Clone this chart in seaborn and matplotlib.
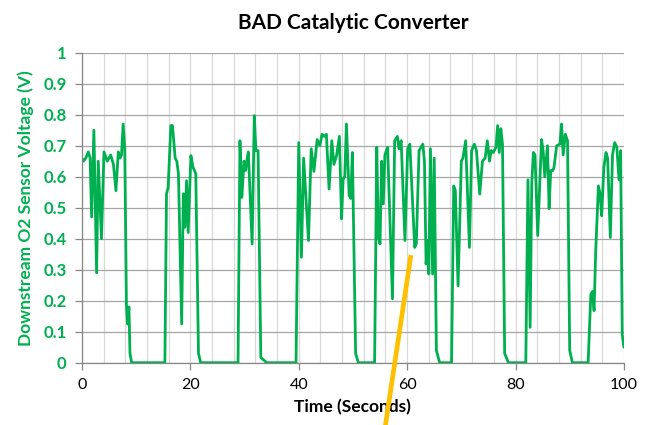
import matplotlib
matplotlib.use("Agg")
import matplotlib.pyplot as plt
import seaborn as sns
import pandas as pd
import numpy as np
from matplotlib.ticker import MultipleLocator, FixedLocator

time_s = [0.0, 0.25, 0.7, 1.17, 1.5, 1.78, 2.2, 2.7, 3.0, 3.6, 4.06, 4.67, 5.3, 5.8, 6.27, 6.7, 7.0, 7.3, 7.6, 7.9,
          8.2, 8.4, 8.67, 8.86, 9.17, 15.3, 15.6, 15.9, 16.4, 16.7, 17.2, 17.5, 17.8, 18.4, 18.7, 19.0, 19.3, 19.6,
          20.1, 20.5, 21.0, 21.5, 21.9, 28.8, 29.15, 29.5, 29.9, 30.2, 30.4, 30.7, 31.4, 31.8, 32.1, 32.5, 33.0,
          34.1, 39.5, 40.0, 40.5, 40.9, 41.8, 42.3, 42.8, 43.4, 43.9, 44.3, 44.7, 45.1, 45.6, 46.1, 46.5, 47.0,
          47.5, 47.9, 48.2, 48.5, 48.8, 49.3, 49.6, 49.9, 50.5, 51.0, 54.0, 54.4, 54.7, 55.0, 55.3, 55.6, 55.9,
          56.4, 57.3, 57.7, 58.2, 58.5, 58.9, 59.6, 60.1, 60.5, 61.4, 61.7, 62.2, 62.9, 63.2, 63.5, 63.8, 64.0,
          64.3, 64.7, 65.0, 65.4, 66.0, 68.2, 68.6, 68.9, 69.4, 70.0, 70.3, 70.8, 71.5, 71.9, 72.4, 72.8, 73.4,
          73.9, 74.4, 74.8, 75.2, 75.5, 75.9, 76.4, 76.7, 77.0, 77.3, 77.6, 78.0, 78.7, 81.9, 82.3, 82.7, 83.0,
          83.3, 83.6, 84.1, 84.8, 85.1, 85.4, 85.9, 86.2, 86.5, 86.9, 87.1, 87.6, 88.2, 88.5, 88.8, 89.2, 89.6,
          90.0, 90.5, 93.4, 93.9, 94.2, 94.5, 94.8, 95.3, 95.6, 95.9, 96.3, 96.7, 97.0, 97.5, 97.9, 98.3, 98.7,
          99.1, 99.4, 99.7, 100.0]
voltage = [0.66, 0.65, 0.66, 0.68, 0.66, 0.47, 0.75, 0.29, 0.65, 0.40, 0.68, 0.65, 0.67, 0.64, 0.555, 0.68, 0.66,
           0.67, 0.77, 0.69, 0.19, 0.125, 0.18, 0.03, 0.0, 0.0, 0.545, 0.565, 0.765, 0.765, 0.66, 0.65, 0.61,
           0.125, 0.545, 0.437, 0.587, 0.42, 0.668, 0.63, 0.61, 0.03, 0.0, 0.0, 0.716, 0.533, 0.65, 0.62, 0.65,
           0.68, 0.383, 0.797, 0.684, 0.684, 0.017, 0.0, 0.0, 0.71, 0.34, 0.66, 0.394, 0.69, 0.617, 0.72, 0.70,
           0.737, 0.73, 0.737, 0.56, 0.716, 0.64, 0.67, 0.73, 0.464, 0.593, 0.60, 0.77, 0.54, 0.53, 0.678, 0.03,
           0.0, 0.0, 0.695, 0.404, 0.383, 0.65, 0.512, 0.67, 0.695, 0.206, 0.716, 0.73, 0.69, 0.716, 0.394, 0.69,
           0.705, 0.372, 0.383, 0.684, 0.705, 0.65, 0.318, 0.394, 0.286, 0.69, 0.286, 0.66, 0.04, 0.0, 0.0, 0.57,
           0.555, 0.248, 0.65, 0.66, 0.716, 0.372, 0.684, 0.705, 0.684, 0.544, 0.65, 0.66, 0.716, 0.65, 0.684,
           0.678, 0.695, 0.765, 0.678, 0.755, 0.705, 0.03, 0.0, 0.0, 0.59, 0.114, 0.58, 0.678, 0.67, 0.41, 0.72,
           0.684, 0.60, 0.70, 0.497, 0.62, 0.62, 0.63, 0.70, 0.705, 0.77, 0.67, 0.737, 0.716, 0.04, 0.0, 0.0, 0.22,
           0.23, 0.168, 0.36, 0.57, 0.545, 0.474, 0.63, 0.678, 0.66, 0.404, 0.67, 0.71, 0.695, 0.59, 0.684, 0.09,
           0.05]

x_ticks = [0, 20, 40, 60, 80, 100]
y_ticks = [0, 0.1, 0.2, 0.3, 0.4, 0.5, 0.6, 0.7, 0.8, 0.9, 1.0]
y_tick_labels = ["0", "0.1", "0.2", "0.3", "0.4", "0.5", "0.6", "0.7", "0.8", "0.9", "1"]

# pointer annotation line (data coordinates)
pointer_x = [60.7, 55.5]
pointer_y = [0.347, -0.26]

sns.set_theme(style="white")
plt.rcParams['font.family'] = ['Lato', 'DejaVu Sans']

green = "#00B050"
fig = plt.figure(figsize=(6.49, 4.25), dpi=100)
ax = fig.add_axes([0.1263, 0.1466, 0.835, 0.7294])

df = pd.DataFrame({"t": time_s, "v": voltage})
sns.lineplot(data=df, x="t", y="v", ax=ax, color=green, linewidth=2.0, sort=False, estimator=None,
             solid_joinstyle="round")

ax.set_xlim(0, 100)
ax.set_ylim(0, 1)
ax.xaxis.set_major_locator(FixedLocator(x_ticks))
ax.xaxis.set_minor_locator(MultipleLocator(4))
ax.set_yticks(y_ticks)
ax.set_yticklabels(y_tick_labels)

ax.grid(axis="y", which="major", color="#A6A6A6", linewidth=0.9)
ax.grid(axis="x", which="minor", color="#D9D9D9", linewidth=0.9)
ax.grid(axis="x", which="major", color="#D9D9D9", linewidth=0.9)
ax.set_axisbelow(True)

for s in ["top", "right"]:
    ax.spines[s].set_visible(False)
for s in ["left", "bottom"]:
    ax.spines[s].set_color("#868686")
    ax.spines[s].set_linewidth(0.9)

ax.tick_params(axis="x", which="major", direction="out", length=5, color="#868686", width=0.9,
               labelsize=11.5, labelcolor="black", bottom=True, pad=6)
ax.tick_params(axis="x", which="minor", length=0)
ax.tick_params(axis="y", which="major", direction="out", length=5, color="#868686", width=0.9,
               labelsize=12, labelcolor=green, left=True, pad=6)
for lbl in ax.get_yticklabels():
    lbl.set_fontweight("bold")

ax.set_title("BAD Catalytic Converter", fontsize=15, fontweight="bold", color="black", pad=17)
ax.set_xlabel("Time (Seconds)", fontsize=12.5, fontweight="bold", color="black", labelpad=5)
ax.set_ylabel("Downstream O2 Sensor Voltage (V)", fontsize=12.5, fontweight="bold", color=green, labelpad=7)

ax.plot(pointer_x, pointer_y, color="#FFC000", linewidth=3.4, clip_on=False, solid_capstyle="butt", zorder=5)

fig.savefig("out.png", dpi=100)
